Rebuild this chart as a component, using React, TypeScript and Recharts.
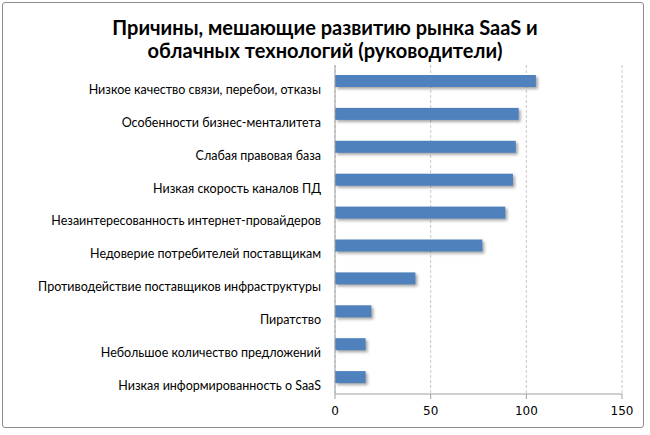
import React from 'react';
import { BarChart, Bar, XAxis, YAxis, CartesianGrid } from 'recharts';

const categories = [
  'Низкое качество связи, перебои, отказы',
  'Особенности бизнес-менталитета',
  'Слабая правовая база',
  'Низкая скорость каналов ПД',
  'Незаинтересованность интернет-провайдеров',
  'Недоверие потребителей поставщикам',
  'Противодействие поставщиков инфраструктуры',
  'Пиратство',
  'Небольшое количество предложений',
  'Низкая информированность о SaaS',
];
const values = [105, 96, 94.5, 93, 89, 77, 42, 19, 16, 16];
const xTicks = [0, 50, 100, 150];
const titleLines = ['Причины, мешающие развитию рынка SaaS и', 'облачных технологий (руководители)'];

const data = categories.map((name, i) => ({ name, value: values[i] }));

const BarShape = (props: any) => {
  const { x, y, width, height } = props;
  return (
    <g>
      <rect x={x + 2} y={y + 2} width={width} height={height} fill="rgba(0,0,0,0.35)" style={{ filter: 'blur(1.5px)' }} />
      <rect x={x} y={y} width={width} height={height} fill="#4f81bd" />
    </g>
  );
};

const CategoryTick = (props: any) => {
  const { x, y, payload } = props;
  return (
    <text x={x} y={y + 8} dy="0.35em" textAnchor="end" fill="#000" fontFamily="Lato" fontSize={12.5}>
      {payload.value}
    </text>
  );
};

export default function App() {
  return (
    <div style={{ position: 'absolute', left: 0, top: 0, width: 650, height: 435, background: '#fff' }}>
      <div style={{ position: 'absolute', left: 2, top: 2, width: 642, height: 426, border: '1px solid #8c8c8c', borderRadius: 3, boxSizing: 'border-box' }} />
      <div style={{ position: 'absolute', left: 0, top: 16, width: 650, textAlign: 'center', fontFamily: 'Lato', fontWeight: 700, fontSize: 20, lineHeight: '23px', color: '#000' }}>
        {titleLines.map((l) => <div key={l}>{l}</div>)}
      </div>
      <BarChart
        width={650}
        height={435}
        data={data}
        layout="vertical"
        margin={{ top: 65, right: 28, bottom: 11, left: 0 }}
        barSize={12}
      >
        <CartesianGrid horizontal={false} vertical={true} stroke="#c8c8c8" strokeDasharray="3 2" />
        <XAxis
          type="number"
          domain={[0, 150]}
          ticks={xTicks}
          height={30}
          axisLine={{ stroke: '#a0a0a0' }}
          tickLine={{ stroke: '#a0a0a0' }}
          tickSize={5}
          tickMargin={7}
          tick={{ fill: '#000', fontFamily: 'DejaVu Sans', fontSize: 12 }}
        />
        <YAxis
          type="category"
          dataKey="name"
          width={335}
          axisLine={{ stroke: '#a0a0a0' }}
          tickLine={false}
          tickSize={0}
          tickMargin={14}
          interval={0}
          tick={<CategoryTick />}
        />
        <Bar dataKey="value" shape={BarShape} isAnimationActive={false} />
      </BarChart>
    </div>
  );
}
